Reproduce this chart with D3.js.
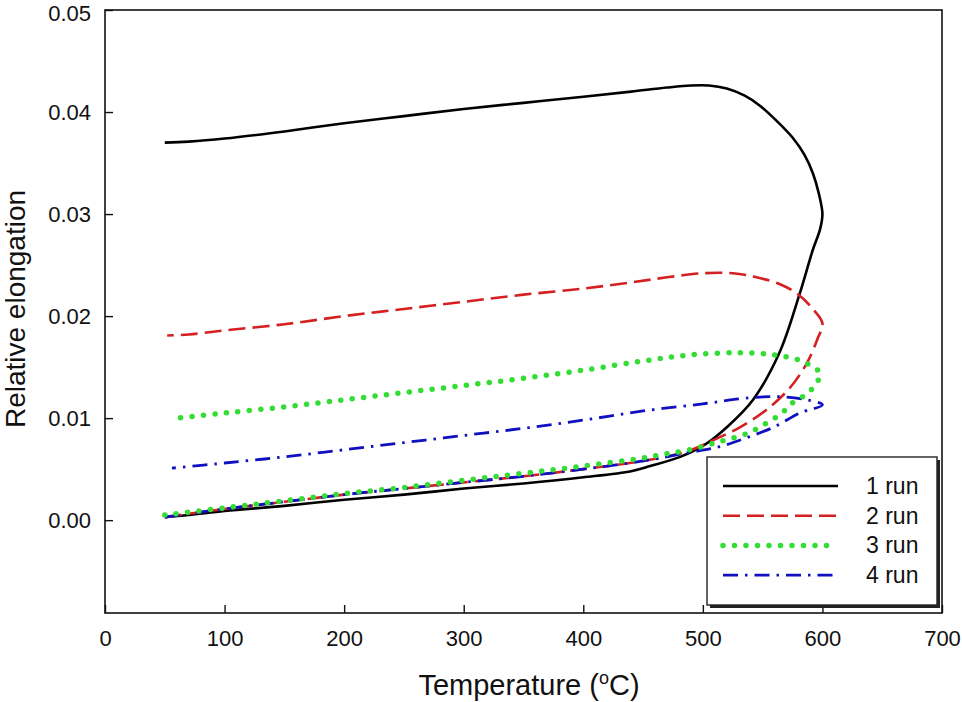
<!DOCTYPE html>
<html><head><meta charset="utf-8">
<script src="https://cdn.jsdelivr.net/npm/d3@7"></script>
<style>
body{margin:0;background:#fff;}
text{font-family:"Liberation Sans",Arial,sans-serif;fill:#111;}
</style></head>
<body><svg id="c" width="962" height="702"></svg>
<script>
// Temperature (°C) and relative elongation per run (closed-ish loops)
const run1T = [50,70,100,150,200,250,300,350,400,440,456,481,503,520,542,564,581,592,598,600,597,592,585,575,562,548,535,520,505,490,470,440,400,350,300,250,200,150,100,70,50];
const run1Y = [0.0003,0.0005,0.0009,0.0014,0.0020,0.0025,0.0031,0.0036,0.0042,0.0048,0.0053,0.0062,0.0075,0.0091,0.0118,0.0164,0.0222,0.0265,0.0285,0.0300,0.0320,0.0340,0.0358,0.0375,0.0391,0.0406,0.0416,0.0423,0.0426,0.0426,0.0424,0.0420,0.0415,0.0409,0.0403,0.0396,0.0389,0.0381,0.0374,0.0371,0.0370];

const run2T = [50,100,150,200,250,300,350,400,450,480,497,508,531,553,573,587,596,600,592,580,565,545,525,500,470,440,400,350,300,250,200,150,100,70,52];
const run2Y = [0.0003,0.0011,0.0018,0.0025,0.0031,0.0037,0.0043,0.0050,0.0058,0.0065,0.0072,0.0078,0.0091,0.0108,0.0130,0.0154,0.0178,0.0193,0.0207,0.0221,0.0231,0.0238,0.0242,0.0242,0.0238,0.0233,0.0227,0.0221,0.0214,0.0207,0.0200,0.0192,0.0186,0.0182,0.0181];

const run3T = [50,100,150,200,250,300,350,400,450,470,489,514,537,553,566,575,587,595,598,592,580,560,530,490,450,400,350,300,250,200,150,100,60];
const run3Y = [0.0005,0.0012,0.0019,0.0026,0.0032,0.0039,0.0046,0.0053,0.0061,0.0065,0.0069,0.0077,0.0085,0.0095,0.0105,0.0115,0.0124,0.0134,0.0144,0.0150,0.0157,0.0162,0.0164,0.0162,0.0156,0.0147,0.0139,0.0132,0.0125,0.0118,0.0111,0.0105,0.0100];

const run4T = [50,100,150,200,250,300,350,400,450,487,514,537,559,581,600,587,565,540,500,450,400,350,300,250,200,150,100,56];
const run4Y = [0.0003,0.0011,0.0018,0.0025,0.0031,0.0037,0.0043,0.0050,0.0058,0.0066,0.0072,0.0081,0.0091,0.0105,0.0113,0.0118,0.0121,0.0120,0.0114,0.0107,0.0098,0.0090,0.0083,0.0076,0.0069,0.0062,0.0056,0.0051];

const seriesNames = ["1 run","2 run","3 run","4 run"];
const xTicks = [0,100,200,300,400,500,600,700];
const yTicks = [0.00,0.01,0.02,0.03,0.04,0.05];

const svg = d3.select("#c");
const L=105, R=942, T=10, B=613;
const x = d3.scaleLinear().domain([0,700]).range([L,R]);
const y = d3.scaleLinear().domain([-0.0091,0.05]).range([B,T]);

const styles = [
  {color:"#000000", dash:null, width:2.6, cap:"butt"},
  {color:"#d42020", dash:"17,7", width:2.6, cap:"butt"},
  {color:"#33dd33", dash:"0,11.5", width:5.5, cap:"round"},
  {color:"#1010c0", dash:"15,7,2.5,7", width:2.8, cap:"butt"}
];
const data = [[run1T,run1Y],[run2T,run2Y],[run3T,run3Y],[run4T,run4Y]]
  .map(([ts,ys]) => ts.map((t,i)=>[t,ys[i]]));

const line = d3.line().x(d=>x(d[0])).y(d=>y(d[1])).curve(d3.curveCatmullRom.alpha(0.5));

const order=[0,1,3,2];
order.forEach(i=>{
  const s=styles[i];
  svg.append("path").datum(data[i]).attr("d",line)
    .attr("fill","none").attr("stroke",s.color).attr("stroke-width",s.width)
    .attr("stroke-linecap",s.cap).attr("stroke-linejoin","round")
    .attr("stroke-dasharray",s.dash);
});

// frame
svg.append("rect").attr("x",L).attr("y",T).attr("width",R-L).attr("height",B-T)
  .attr("fill","none").attr("stroke","#111").attr("stroke-width",1.6);

// axes
const xAxis = d3.axisBottom(x).tickValues(xTicks).tickSize(-8).tickPadding(17).tickFormat(d3.format("d"));
const gx = svg.append("g").attr("transform",`translate(0,${B})`).call(xAxis);
gx.select(".domain").remove();
gx.selectAll("line").attr("stroke","#111").attr("stroke-width",1.4);
gx.selectAll("text").attr("font-size",22).attr("font-family","Liberation Sans, Arial, sans-serif").attr("fill","#111");

const yAxis = d3.axisLeft(y).tickValues(yTicks).tickSize(-8).tickPadding(14).tickFormat(d3.format(".2f"));
const gy = svg.append("g").attr("transform",`translate(${L},0)`).call(yAxis);
gy.select(".domain").remove();
gy.selectAll("line").attr("stroke","#111").attr("stroke-width",1.4);
gy.selectAll("text").attr("font-size",22).attr("font-family","Liberation Sans, Arial, sans-serif").attr("fill","#111")
  .attr("dy", d => d === 0.05 ? "0.46em" : "0.32em");

// axis titles
const xt = svg.append("text").attr("x",529).attr("y",695).attr("text-anchor","middle").attr("font-size",29);
xt.append("tspan").text("Temperature (");
xt.append("tspan").attr("font-size",18).attr("dy",-11).text("o");
xt.append("tspan").attr("dy",11).text("C)");

svg.append("text").attr("transform","translate(25,309) rotate(-90)").attr("text-anchor","middle")
  .attr("font-size",28).text("Relative elongation");

// legend
const lx=707, ly=457, lw=230, lh=148;
svg.append("rect").attr("x",lx+3).attr("y",ly+3).attr("width",lw).attr("height",lh).attr("fill","#222");
svg.append("rect").attr("x",lx).attr("y",ly).attr("width",lw).attr("height",lh).attr("fill","#fff").attr("stroke","#222").attr("stroke-width",1.4);
seriesNames.forEach((name,i)=>{
  const s=styles[i];
  const yy = ly+29+i*29.7;
  svg.append("line").attr("x1",lx+16).attr("x2",lx+131).attr("y1",yy).attr("y2",yy)
    .attr("stroke",s.color).attr("stroke-width",s.width).attr("stroke-linecap",s.cap)
    .attr("stroke-dasharray",s.dash);
  svg.append("text").attr("x",lx+159).attr("y",yy+8).attr("font-size",23).text(name);
});
</script></body></html>
